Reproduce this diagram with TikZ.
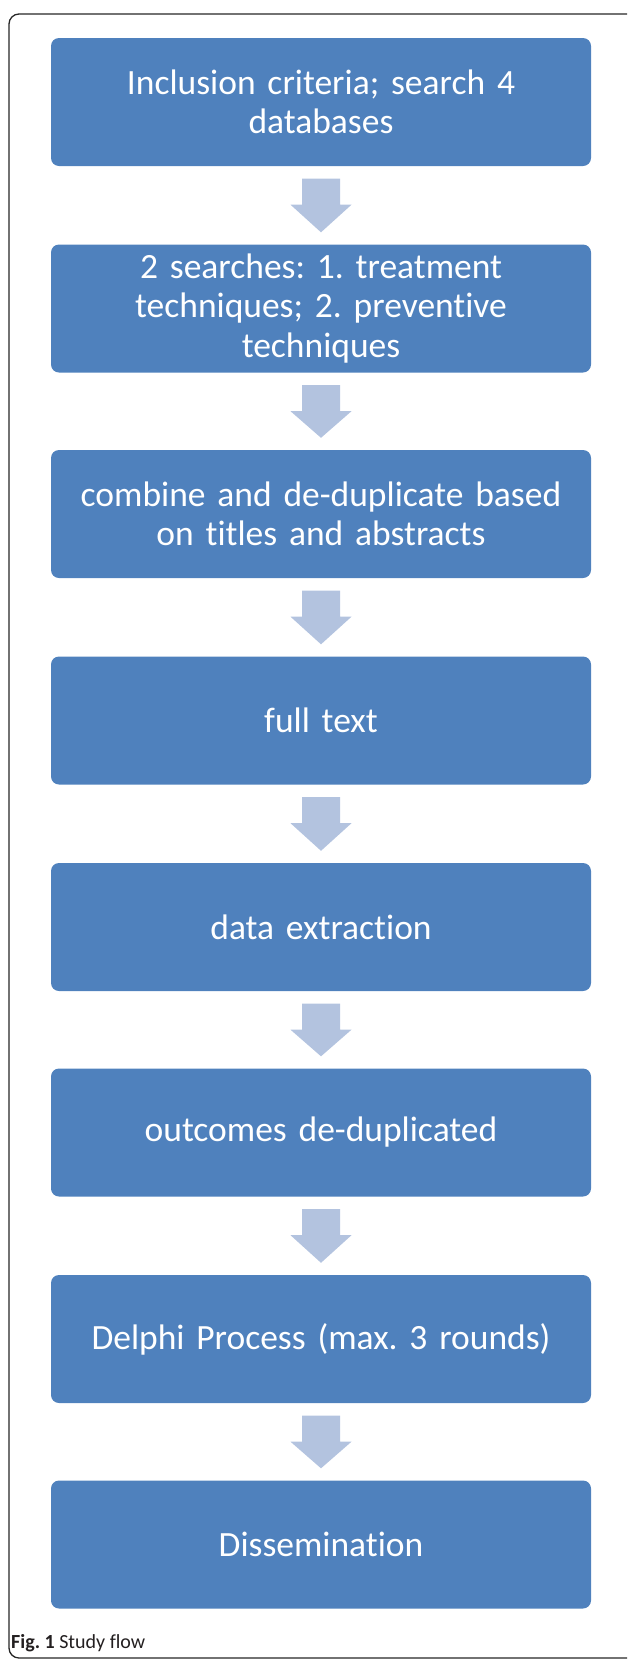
\documentclass[tikz,border=0pt]{standalone}
\usepackage{fontspec}
\setmainfont{Carlito}[Ligatures={NoCommon,NoRare,NoContextual}]
\usetikzlibrary{calc}
\definecolor{boxblue}{RGB}{79,129,189}
\definecolor{arrblue}{RGB}{179,195,223}
\definecolor{capgray}{RGB}{35,31,32}
\tikzset{
  flowbox/.style={fill=boxblue, draw=none, rounded corners=8pt, minimum width=540pt, minimum height=128pt,
    text width=520pt, align=center, text=white, inner sep=0pt,
    font=\fontsize{35.5}{39.5}\selectfont},
  blockarrow/.style={fill=arrblue, draw=none}
}
\newcommand{\flowarrow}[2]{%
  \fill[blockarrow] ($(#1.south)+(-19,12.5)$) -- ($(#1.south)+(19,12.5)$) -- ($(#1.south)+(19,38.5)$)
    -- ($(#1.south)+(30.5,38.5)$) -- ($(#2.north)+(0,-12)$) -- ($(#1.south)+(-30.5,38.5)$)
    -- ($(#1.south)+(-19,38.5)$) -- cycle;}
\frenchspacing
\begin{document}
\begin{tikzpicture}[x=1pt,y=-1pt]
\useasboundingbox (0,0) rectangle (627,1660);
\clip (0,0) rectangle (627,1660);
\draw[line width=1.3pt, color=black!85, rounded corners=10pt] (9,14) rectangle (660,1658);
\node[flowbox] (b1) at (321,102) {Inclusion criteria; search 4\\databases};
\node[flowbox] (b2) at (321,308.5) {2 searches: 1. treatment\\techniques; 2. preventive\\techniques};
\node[flowbox] (b3) at (321,514) {combine and de-duplicate based\\on titles and abstracts};
\node[flowbox] (b4) at (321,720.5) {full text};
\node[flowbox] (b5) at (321,927) {data extraction};
\node[flowbox] (b6) at (321,1132.5) {outcomes de-duplicated};
\node[flowbox] (b7) at (321,1339) {Delphi Process (max. 3 rounds)};
\node[flowbox] (b8) at (321,1544.5) {Dissemination};
\flowarrow{b1}{b2}
\flowarrow{b2}{b3}
\flowarrow{b3}{b4}
\flowarrow{b4}{b5}
\flowarrow{b5}{b6}
\flowarrow{b6}{b7}
\flowarrow{b7}{b8}
\node[anchor=base west, inner sep=0pt, text=capgray, font=\fontsize{20}{22}\selectfont] (cap) at (11,1648) {\textbf{Fig. 1} Study flow};
\end{tikzpicture}
\end{document}
